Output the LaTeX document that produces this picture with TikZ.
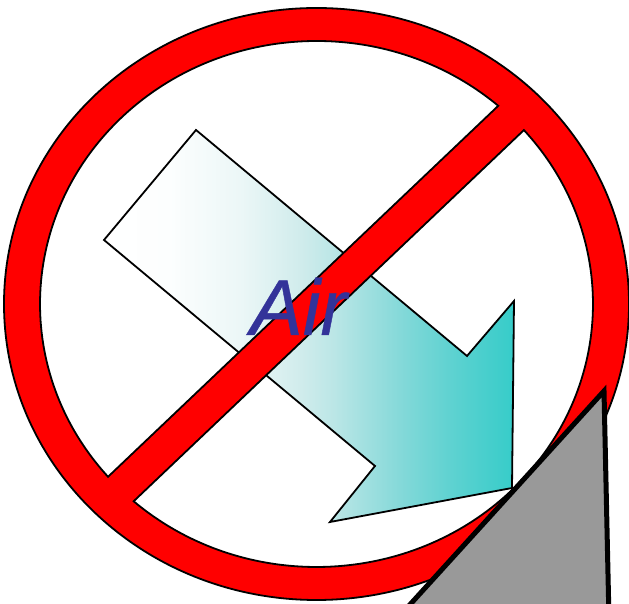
\documentclass[tikz,border=0pt]{standalone}
\usepackage{fontspec}
\setmainfont{Liberation Sans}
\newfontfamily\airfont{Liberation Sans}[ItalicFeatures={FakeBold=0.5}]
\definecolor{airblue}{HTML}{333399}
\definecolor{barred}{HTML}{FF0000}
\definecolor{wedge}{HTML}{999999}
\pgfdeclarehorizontalshading{airfade}{100bp}{
  rgb(0bp)=(1,1,1);
  rgb(25bp)=(1,1,1);
  rgb(33bp)=(0.988,0.996,0.996);
  rgb(41.6bp)=(0.925,0.969,0.969);
  rgb(49bp)=(0.816,0.925,0.925);
  rgb(53bp)=(0.733,0.902,0.902);
  rgb(61bp)=(0.522,0.851,0.851);
  rgb(67bp)=(0.376,0.824,0.820);
  rgb(75bp)=(0.212,0.800,0.788);
  rgb(100bp)=(0.212,0.800,0.788)}
\tikzset{
  outline/.style={draw=black,line width=1.8pt,line join=miter},
  airarrow/.style={outline,shading=airfade,shading angle=0},
  nosign/.style={outline,fill=barred,even odd rule},
  wedgeshape/.style={draw=black,fill=wedge,line width=5pt,line join=miter},
  airlabel/.style={text=airblue,font=\airfont\fontsize{79}{79}\selectfont\itshape,inner sep=0pt,anchor=base west}
}
\begin{document}
\begin{tikzpicture}[x=1pt,y=1pt]
\useasboundingbox (0,0) rectangle (629,604);
\clip (0,0) rectangle (629,604);
\fill[white] (0,0) rectangle (629,604);
% arrow
\path[airarrow] (196,474) -- (467,248) -- (514,303) -- (512,116) -- (330,82) -- (375,138) -- (104,364) -- cycle;
% prohibition sign
\path[nosign]
  (316.5,300) ellipse [x radius=312.5,y radius=296]
  ({316.5+276.5*cos(48.9)},{300+263*sin(48.9)}) arc [start angle=48.9,end angle=221.07,x radius=276.5,y radius=263] -- cycle
  ({316.5+276.5*cos(228.6)},{300+263*sin(228.6)}) arc [start angle=228.6,end angle=401.4,x radius=276.5,y radius=263] -- cycle;
% label
\node[airlabel] (air) at (250,269) {Air};
% wedge
\path[wedgeshape] (604,213) -- (609,-16) -- (396,-16) -- cycle;
\end{tikzpicture}
\end{document}
